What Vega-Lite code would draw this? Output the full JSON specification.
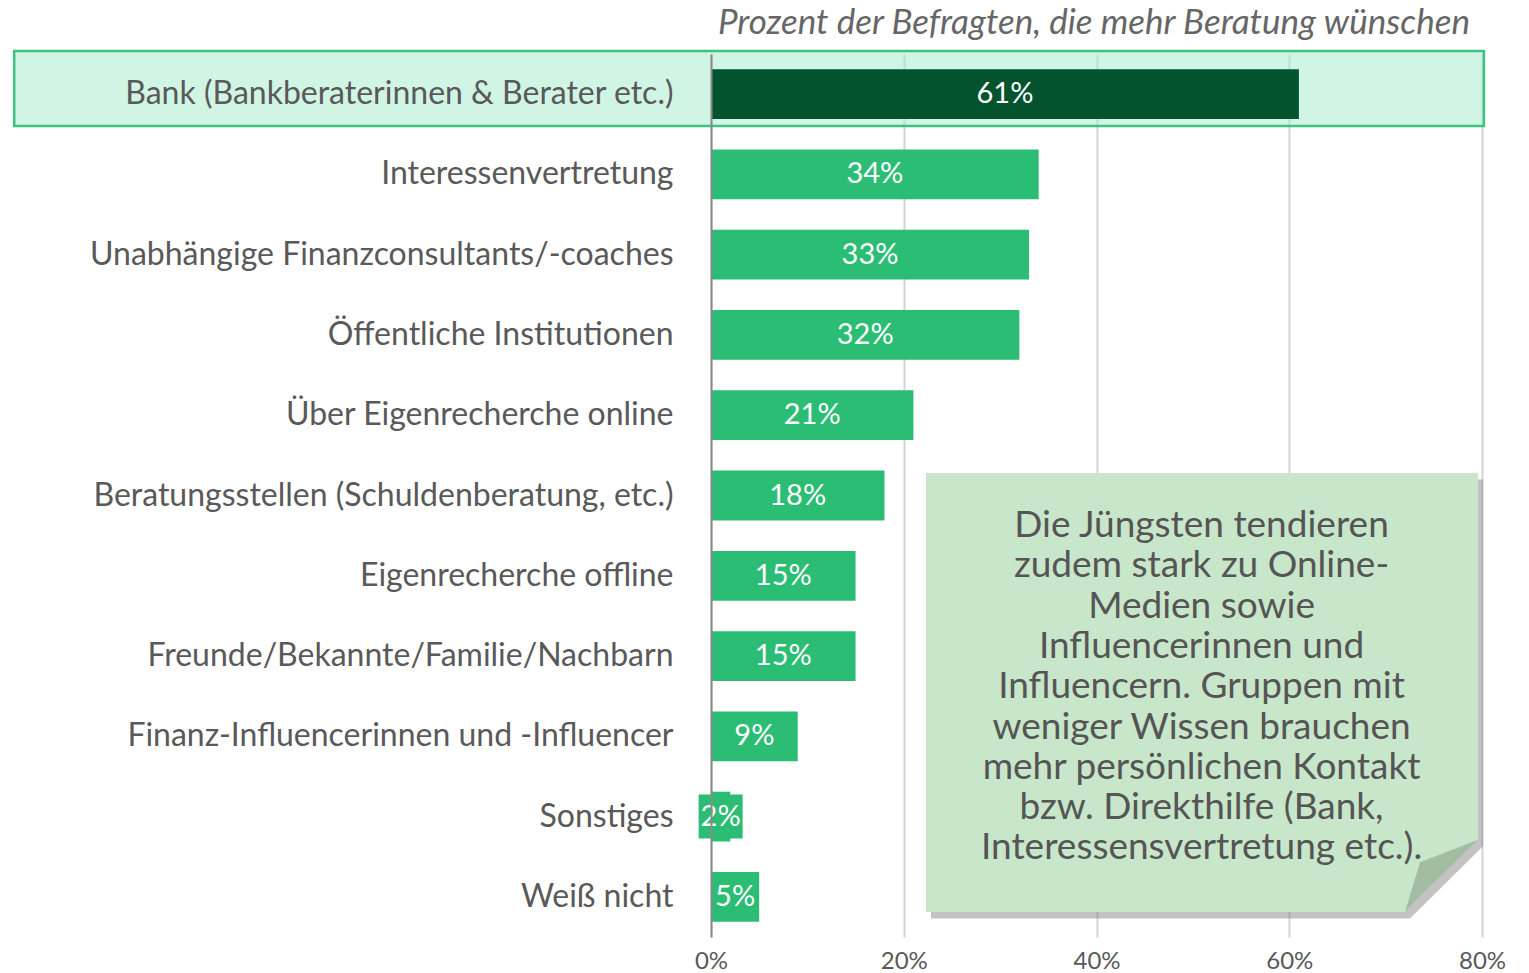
{
  "$schema": "https://vega.github.io/schema/vega-lite/v6.json",
  "autosize": {"type": "none"},
  "width": 771,
  "height": 883,
  "padding": {"left": 711, "top": 54, "right": 47, "bottom": 36},
  "background": "white",
  "config": {"view": {"stroke": null}, "font": "Lato"},
  "title": {
    "text": "Prozent der Befragten, die mehr Beratung wünschen",
    "anchor": "end",
    "frame": "group",
    "orient": "top",
    "offset": 9,
    "dx": -12,
    "font": "Lato",
    "fontSize": 35,
    "fontStyle": "italic",
    "fontWeight": "normal",
    "color": "#666666"
  },
  "datasets": {
    "bars": [
      {"kategorie": "Bank (Bankberaterinnen & Berater etc.)", "wert": 61, "beschriftung": "61%"},
      {"kategorie": "Interessenvertretung", "wert": 34, "beschriftung": "34%"},
      {"kategorie": "Unabhängige Finanzconsultants/-coaches", "wert": 33, "beschriftung": "33%"},
      {"kategorie": "Öffentliche Institutionen", "wert": 32, "beschriftung": "32%"},
      {"kategorie": "Über Eigenrecherche online", "wert": 21, "beschriftung": "21%"},
      {"kategorie": "Beratungsstellen (Schuldenberatung, etc.)", "wert": 18, "beschriftung": "18%"},
      {"kategorie": "Eigenrecherche offline", "wert": 15, "beschriftung": "15%"},
      {"kategorie": "Freunde/Bekannte/Familie/Nachbarn", "wert": 15, "beschriftung": "15%"},
      {"kategorie": "Finanz-Influencerinnen und -Influencer", "wert": 9, "beschriftung": "9%"},
      {"kategorie": "Sonstiges", "wert": 2, "beschriftung": "2%"},
      {"kategorie": "Weiß nicht", "wert": 5, "beschriftung": "5%"}
    ],
    "highlight": [{"x": -72.3, "x2": 80.2, "y": -0.037, "y2": 0.897}],
    "kreis": [{"x": -84.0, "y": 4.37}],
    "notiz": [
      {"x": 22.31, "oben": 5.22, "unten": 10.69},
      {"x": 72.01, "oben": 5.22, "unten": 10.69},
      {"x": 79.58, "oben": 5.22, "unten": 9.79}
    ],
    "schatten": [
      {"x": 22.83, "oben": 5.30, "unten": 10.77},
      {"x": 72.53, "oben": 5.30, "unten": 10.77},
      {"x": 80.10, "oben": 5.30, "unten": 9.87}
    ],
    "falz": [
      {"x": 72.01, "oben": 10.69, "unten": 10.69},
      {"x": 73.57, "oben": 10.07, "unten": 10.50},
      {"x": 79.58, "oben": 9.79, "unten": 9.79}
    ],
    "notiztext": [
      {"x": 50.9, "y": 5.88, "text": "Die Jüngsten tendieren\nzudem stark zu Online-\nMedien sowie\nInfluencerinnen und\nInfluencern. Gruppen mit\nweniger Wissen brauchen\nmehr persönlichen Kontakt\nbzw. Direkthilfe (Bank,\nInteressensvertretung etc.)."}
    ]
  },
  "layer": [
    {
      "data": {"name": "highlight"},
      "mark": {"type": "rect", "fill": "#a1ebc9", "fillOpacity": 0.5, "stroke": "#3cc47f", "strokeWidth": 2.5, "clip": false},
      "encoding": {
        "x": {"field": "x", "type": "quantitative", "scale": {"domain": [0, 80], "nice": false, "zero": false}, "axis": null},
        "x2": {"field": "x2"},
        "y": {"field": "y", "type": "quantitative", "scale": {"domain": [0, 11], "reverse": true, "nice": false, "zero": false}, "axis": null},
        "y2": {"field": "y2"}
      }
    },
    {
      "data": {"name": "kreis"},
      "mark": {"type": "point", "filled": false, "stroke": "#2BBD74", "strokeWidth": 4, "size": 32200, "clip": false},
      "encoding": {
        "x": {"field": "x", "type": "quantitative", "scale": {"domain": [0, 80], "nice": false, "zero": false}, "axis": null},
        "y": {"field": "y", "type": "quantitative", "scale": {"domain": [0, 11], "reverse": true, "nice": false, "zero": false}, "axis": null}
      }
    },
    {
      "data": {"name": "bars"},
      "mark": {"type": "bar"},
      "encoding": {
        "y": {
          "field": "kategorie", "type": "nominal", "sort": null,
          "scale": {"paddingInner": 0.38, "paddingOuter": 0.19},
          "axis": {
            "title": null, "ticks": false, "labelPadding": 38, "labelFont": "Lato", "labelFontSize": 32,
            "labelColor": "#595959", "labelLimit": 700, "domain": true, "domainColor": "#8a8a8a", "domainWidth": 2, "zindex": 1
          }
        },
        "x": {
          "field": "wert", "type": "quantitative",
          "scale": {"domain": [0, 80], "nice": false},
          "axis": {
            "title": null, "values": [0, 20, 40, 60, 80], "labelExpr": "datum.value + '%'",
            "ticks": false, "domain": false, "grid": true, "gridColor": "#d4d4d4", "gridWidth": 2, "labelFlush": false,
            "labelFont": "Lato", "labelFontSize": 24, "labelColor": "#595959", "labelPadding": 12
          }
        },
        "color": {
          "condition": {"test": "datum.kategorie === 'Bank (Bankberaterinnen & Berater etc.)'", "value": "#04532F"},
          "value": "#2BBD74"
        }
      }
    },
    {
      "data": {"name": "bars"},
      "transform": [{"filter": "datum.kategorie === 'Sonstiges'"}],
      "mark": {"type": "square", "color": "#2BBD74", "opacity": 1, "size": 1936},
      "encoding": {
        "y": {"field": "kategorie", "type": "nominal", "sort": null, "scale": {"domain": ["Bank (Bankberaterinnen & Berater etc.)", "Interessenvertretung", "Unabhängige Finanzconsultants/-coaches", "Öffentliche Institutionen", "Über Eigenrecherche online", "Beratungsstellen (Schuldenberatung, etc.)", "Eigenrecherche offline", "Freunde/Bekannte/Familie/Nachbarn", "Finanz-Influencerinnen und -Influencer", "Sonstiges", "Weiß nicht"], "paddingInner": 0.38, "paddingOuter": 0.19}, "axis": null},
        "x": {"field": "wert", "type": "quantitative", "scale": {"domain": [0, 160], "nice": false}, "axis": null}
      }
    },
    {
      "data": {"name": "bars"},
      "mark": {"type": "text", "color": "white", "font": "Lato", "fontSize": 29, "align": "center", "baseline": "middle"},
      "encoding": {
        "y": {"field": "kategorie", "type": "nominal", "sort": null, "scale": {"domain": ["Bank (Bankberaterinnen & Berater etc.)", "Interessenvertretung", "Unabhängige Finanzconsultants/-coaches", "Öffentliche Institutionen", "Über Eigenrecherche online", "Beratungsstellen (Schuldenberatung, etc.)", "Eigenrecherche offline", "Freunde/Bekannte/Familie/Nachbarn", "Finanz-Influencerinnen und -Influencer", "Sonstiges", "Weiß nicht"], "paddingInner": 0.38, "paddingOuter": 0.19}, "axis": null},
        "x": {"field": "wert", "type": "quantitative", "scale": {"domain": [0, 160], "nice": false}, "axis": null},
        "text": {"field": "beschriftung", "type": "nominal"}
      }
    },
    {
      "layer": [
        {
          "data": {"name": "schatten"},
          "mark": {"type": "area", "orient": "vertical", "color": "#7a7a7a", "opacity": 0.45},
          "encoding": {
            "x": {"field": "x", "type": "quantitative", "scale": {"domain": [0, 80], "nice": false, "zero": false}, "axis": null},
            "y": {"field": "oben", "type": "quantitative", "scale": {"domain": [0, 11], "reverse": true, "nice": false, "zero": false}, "axis": null},
            "y2": {"field": "unten"}
          }
        },
        {
          "data": {"name": "notiz"},
          "mark": {"type": "area", "orient": "vertical", "color": "#C8E6C9", "opacity": 1},
          "encoding": {
            "x": {"field": "x", "type": "quantitative"},
            "y": {"field": "oben", "type": "quantitative"},
            "y2": {"field": "unten"}
          }
        },
        {
          "data": {"name": "falz"},
          "mark": {"type": "area", "orient": "vertical", "color": "#A3BDA3", "opacity": 1},
          "encoding": {
            "x": {"field": "x", "type": "quantitative"},
            "y": {"field": "oben", "type": "quantitative"},
            "y2": {"field": "unten"}
          }
        },
        {
          "data": {"name": "notiztext"},
          "mark": {"type": "text", "font": "Lato", "fontSize": 37, "color": "#555555", "align": "center", "baseline": "middle", "lineBreak": "\n", "lineHeight": 40.3},
          "encoding": {
            "x": {"field": "x", "type": "quantitative"},
            "y": {"field": "y", "type": "quantitative"},
            "text": {"field": "text"}
          }
        }
      ]
    }
  ],
  "resolve": {"scale": {"x": "independent", "y": "independent"}}
}
